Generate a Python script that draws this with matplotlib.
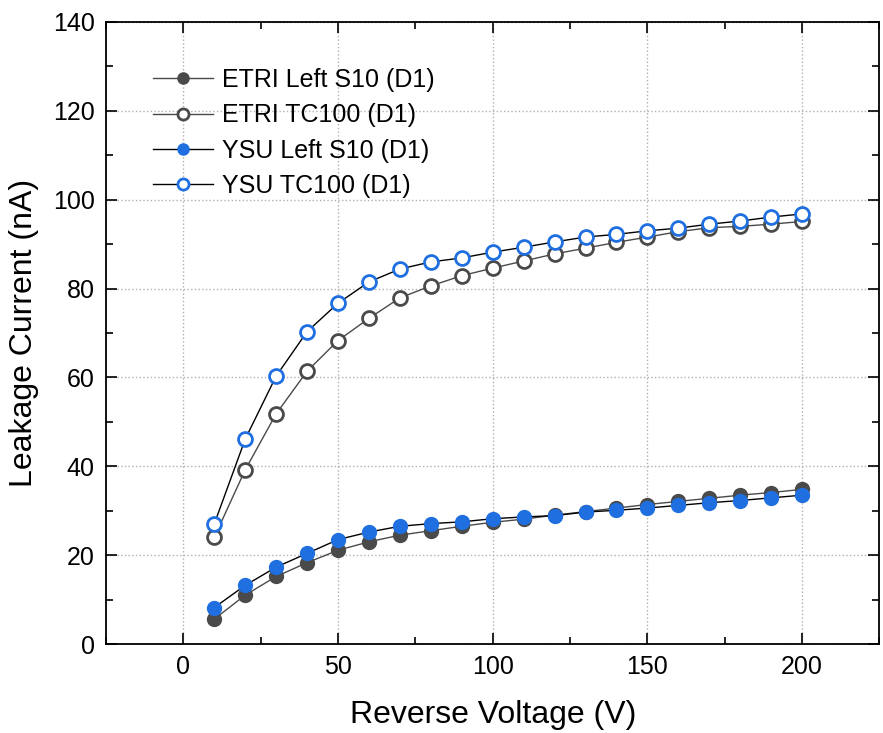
import matplotlib.pyplot as plt
import numpy as np
from matplotlib.ticker import MultipleLocator

plt.rcParams['font.family'] = ['Liberation Sans', 'DejaVu Sans']

voltage = np.arange(10, 201, 10)

etri_left = [5.6, 11.0, 15.2, 18.3, 21.1, 23.0, 24.5, 25.5, 26.5, 27.4,
             28.1, 29.0, 29.8, 30.6, 31.4, 32.1, 32.8, 33.5, 34.1, 34.8]
etri_tc = [24.0, 39.2, 51.8, 61.4, 68.3, 73.3, 77.9, 80.6, 82.9, 84.6,
           86.2, 87.8, 89.1, 90.4, 91.6, 92.8, 93.7, 94.0, 94.5, 95.1]
ysu_left = [8.2, 13.2, 17.3, 20.4, 23.5, 25.2, 26.5, 27.1, 27.5, 28.2,
            28.6, 28.9, 29.7, 30.1, 30.6, 31.2, 31.8, 32.3, 32.9, 33.5]
ysu_tc = [27.0, 46.1, 60.3, 70.3, 76.7, 81.5, 84.4, 86.0, 86.9, 88.2,
          89.3, 90.5, 91.6, 92.2, 93.0, 93.6, 94.5, 95.2, 96.1, 96.8]

gray = '#4a4a4a'
blue = '#1f6fe0'

fig = plt.figure(figsize=(8.83, 7.33), dpi=100)
ax = fig.add_axes([0.120, 0.1214, 0.876, 0.8486])

ax.plot(voltage, etri_left, '-o', color=gray, lw=1, ms=10, mfc=gray, mec=gray,
        label='ETRI Left S10 (D1)')
ax.plot(voltage, etri_tc, '-o', color=gray, lw=1, ms=10, mfc='white', mec=gray, mew=2,
        label='ETRI TC100 (D1)')
ax.plot(voltage, ysu_left, '-o', color='black', lw=1, ms=10, mfc=blue, mec=blue,
        label='YSU Left S10 (D1)')
ax.plot(voltage, ysu_tc, '-o', color='black', lw=1, ms=10, mfc='white', mec=blue, mew=2,
        label='YSU TC100 (D1)')

ax.set_xlim(-25, 225)
ax.set_ylim(0, 140)
ax.xaxis.set_major_locator(MultipleLocator(50))
ax.xaxis.set_minor_locator(MultipleLocator(25))
ax.yaxis.set_major_locator(MultipleLocator(20))
ax.yaxis.set_minor_locator(MultipleLocator(10))
ax.tick_params(which='both', direction='in', top=True, right=True, width=1.2)
ax.tick_params(which='major', length=8, labelsize=18, pad=8)
ax.tick_params(which='minor', length=5)
for s in ax.spines.values():
    s.set_linewidth(1.3)

ax.grid(True, which='major', ls=':', color='#b0b0b0', lw=1)
ax.set_axisbelow(True)

ax.set_xlabel('Reverse Voltage (V)', fontsize=23, labelpad=15)
ax.set_ylabel('Leakage Current (nA)', fontsize=23, labelpad=10)

ax.legend(loc='upper left', bbox_to_anchor=(0.032, 0.962), frameon=False, fontsize=18,
          handlelength=2.4, labelspacing=0.45, handletextpad=0.35, markerscale=0.8)

fig.savefig('out.png', dpi=100)
